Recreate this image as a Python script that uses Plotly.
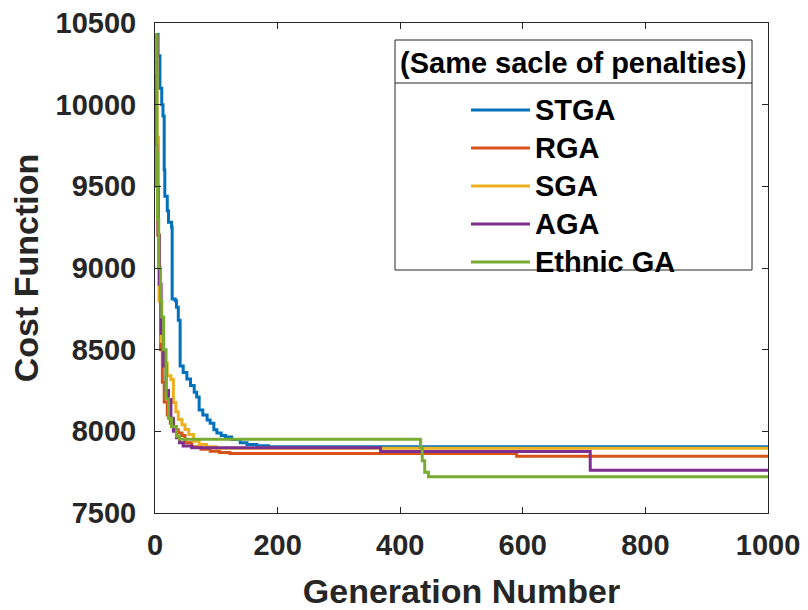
import plotly.graph_objects as go

# Convergence histories (generation, best cost) for each GA variant
series_names = ["STGA", "RGA", "SGA", "AGA", "Ethnic GA"]
series_colors = ["#0072BD", "#D95319", "#EDB120", "#7E2F8E", "#77AC30"]

stga_gen = [1, 5, 8, 11, 13, 15, 16, 20, 22, 27, 28, 33, 35, 38, 41, 46, 52, 58, 64, 68,
            72, 78, 85, 90, 96, 101, 108, 115, 125, 139, 150, 166, 185, 1000]
stga_cost = [10430, 10300, 10100, 10000, 9930, 9600, 9440, 9350, 9280, 9250, 8810, 8800,
             8760, 8680, 8400, 8360, 8320, 8280, 8240, 8210, 8130, 8100, 8070, 8050, 8010,
             7990, 7975, 7965, 7950, 7930, 7920, 7912, 7905, 7905]

rga_gen = [1, 3, 5, 7, 9, 12, 15, 20, 25, 30, 33, 38, 44, 49, 60, 75, 90, 105, 122, 590, 1000]
rga_cost = [10420, 9800, 9200, 8800, 8500, 8300, 8180, 8100, 8050, 8030, 8010, 7990, 7975,
            7930, 7905, 7890, 7878, 7870, 7864, 7848, 7848]

sga_gen = [1, 3, 5, 7, 10, 14, 20, 26, 30, 34, 38, 44, 49, 55, 63, 72, 84, 100, 1000]
sga_cost = [10420, 9800, 9200, 8800, 8550, 8420, 8340, 8318, 8177, 8120, 8072, 8040, 8011,
            7980, 7939, 7920, 7905, 7897, 7897]

aga_gen = [1, 2, 3, 5, 7, 10, 14, 18, 22, 26, 30, 35, 40, 46, 60, 368, 710, 1000]
aga_cost = [10420, 9750, 9500, 9200, 8900, 8600, 8400, 8250, 8195, 8080, 8000, 7960, 7930,
            7910, 7900, 7876, 7762, 7762]

ethnic_gen = [1, 2, 3, 4, 6, 9, 11, 14, 18, 22, 27, 35, 40, 430, 433, 436, 440, 446, 1000]
ethnic_cost = [10430, 10200, 9700, 9300, 9000, 8800, 8700, 8500, 8200, 8080, 8030, 7970,
               7952, 7952, 7900, 7820, 7750, 7722, 7722]

x_ticks = [0, 200, 400, 600, 800, 1000]
y_ticks = [7500, 8000, 8500, 9000, 9500, 10000, 10500]
legend_title = "(Same sacle of penalties)"

gens = [stga_gen, rga_gen, sga_gen, aga_gen, ethnic_gen]
costs = [stga_cost, rga_cost, sga_cost, aga_cost, ethnic_cost]

fig = go.Figure()
for name, color, g, c in zip(series_names, series_colors, gens, costs):
    fig.add_trace(go.Scatter(x=g, y=c, mode="lines", name=name, line_shape="hv",
                             line=dict(color=color, width=3), showlegend=False))

W, H = 808, 610
ml, mr, mt, mb = 155, 40, 23, 97
pw, ph = W - ml - mr, H - mt - mb


def px(x):
    return (x - ml) / pw


def py(y):
    return (mt + ph - y) / ph


axis_col = "#262626"
family = "Liberation Sans, Arial, sans-serif"
bold = dict(family=family, color=axis_col, weight="bold")

# Boxed legend with a title row
shapes = [
    dict(type="rect", xref="paper", yref="paper", x0=px(395), x1=px(752), y0=py(270), y1=py(40),
         line=dict(color=axis_col, width=1), fillcolor="white", layer="above"),
    dict(type="line", xref="paper", yref="paper", x0=px(395), x1=px(752), y0=py(83), y1=py(83),
         line=dict(color=axis_col, width=1), layer="above"),
]
annotations = [
    dict(text=legend_title, xref="paper", yref="paper", x=px(573), y=py(63), showarrow=False,
         xanchor="center", yanchor="middle",
         font=dict(size=29, color="black", family=family, weight="bold")),
]
entry_y = [110, 148, 186, 224, 262]
for name, color, ey in zip(series_names, series_colors, entry_y):
    shapes.append(dict(type="line", xref="paper", yref="paper", x0=px(471), x1=px(530),
                       y0=py(ey), y1=py(ey), line=dict(color=color, width=3), layer="above"))
    annotations.append(dict(text=name, xref="paper", yref="paper", x=px(533), y=py(ey),
                            showarrow=False, xanchor="left", yanchor="middle",
                            font=dict(size=29, color="black", family=family, weight="bold")))

fig.update_layout(
    width=W, height=H,
    margin=dict(l=ml, r=mr, t=mt, b=mb, autoexpand=False),
    plot_bgcolor="white", paper_bgcolor="white",
    shapes=shapes, annotations=annotations,
    xaxis=dict(range=[0, 1000], tickvals=x_ticks, ticktext=[str(v) for v in x_ticks],
               ticks="inside", ticklen=6, tickcolor=axis_col, automargin=False,
               showline=True, linecolor=axis_col, linewidth=1, mirror="ticks", showgrid=False,
               zeroline=False, tickfont=dict(size=29, **bold), ticklabelstandoff=6,
               title=dict(text="Generation Number", font=dict(size=34, **bold), standoff=22)),
    yaxis=dict(range=[7500, 10500], tickvals=y_ticks, ticktext=[str(v) for v in y_ticks],
               ticks="inside", ticklen=6, automargin=False,
               tickcolor=axis_col, showline=True, linecolor=axis_col, linewidth=1,
               mirror="ticks", showgrid=False, zeroline=False,
               tickfont=dict(size=29, **bold), ticklabelstandoff=12,
               title=dict(text="Cost Function", font=dict(size=34, **bold), standoff=6)),
)

fig.write_html("out.html")
